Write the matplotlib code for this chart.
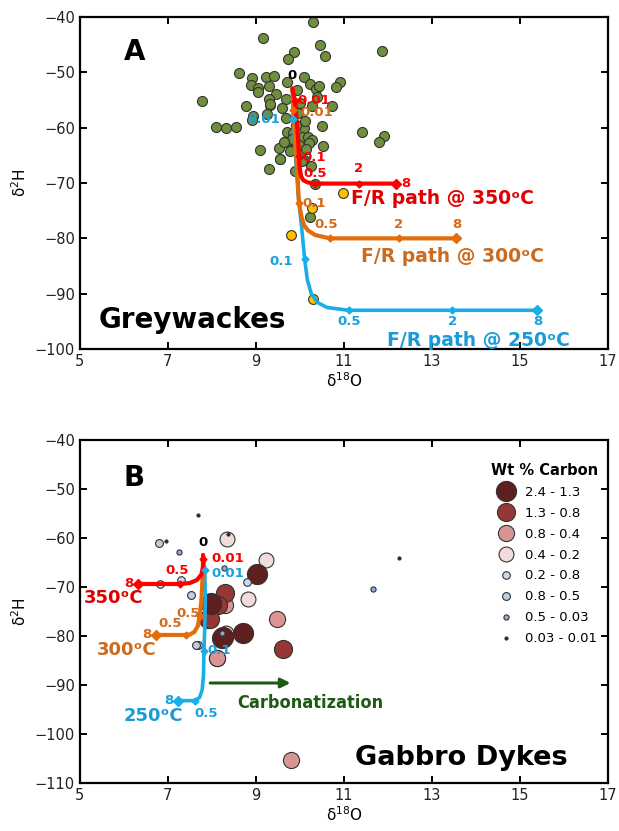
import numpy as np
import matplotlib
matplotlib.use("Agg")
import matplotlib.pyplot as plt
from matplotlib.lines import Line2D

plt.rcParams['font.family'] = ['DejaVu Sans']
plt.rcParams['mathtext.default'] = 'regular'

# ---------------- panel A data : greywackes ----------------
grey_d18o = [10.30, 9.16, 10.45, 11.86, 9.87, 10.58, 9.72, 8.61, 8.92, 9.22, 9.41, 10.09,
             10.92, 10.82, 8.88, 9.04, 9.31, 9.71, 10.23, 10.36, 10.44, 9.05, 9.45, 9.94,
             7.77, 9.29, 9.68, 8.77, 9.32, 10.27, 10.72, 8.94, 9.26, 8.92, 9.68, 8.09,
             8.33, 8.56, 10.10, 10.51, 9.91, 11.42, 11.92, 11.80, 9.71, 9.85, 10.04, 10.18,
             10.28, 9.66, 9.80, 9.99, 10.20, 10.53, 9.09, 9.53, 9.55, 9.79, 9.30, 9.89,
             10.09, 10.34, 10.25, 9.83, 9.64, 9.77, 9.56, 10.23, 9.95, 10.12, 10.05, 9.97,
             10.15, 9.60, 10.00, 9.33, 10.40]
grey_d2h = [-40.9, -43.7, -45.1, -46.1, -46.3, -47.0, -47.5, -50.1, -51.1, -50.8, -50.6, -50.9,
            -51.7, -52.7, -52.2, -52.8, -52.5, -51.7, -52.1, -53.0, -52.5, -53.6, -53.9, -53.1,
            -55.1, -54.9, -54.8, -56.1, -55.9, -56.1, -56.0, -57.8, -57.6, -58.6, -58.2, -59.9,
            -60.1, -59.9, -60.1, -59.7, -59.5, -60.8, -61.5, -62.6, -60.8, -61.0, -61.7, -61.6,
            -62.2, -62.5, -62.9, -63.1, -62.7, -63.3, -64.0, -63.7, -65.7, -64.0, -67.4, -67.8,
            -65.8, -70.1, -66.9, -62.1, -62.6, -64.2, -65.7, -76.1, -57.3, -58.8, -66.0, -64.8,
            -63.9, -56.4, -55.5, -55.7, -54.5]
yellow_d18o = [10.99, 10.28, 9.80, 10.30]
yellow_d2h = [-71.8, -74.5, -79.4, -91.0]

# fluid/rock paths, panel A (vertices)
a350_x = [9.83, 9.89, 9.93, 9.96, 9.98, 10.00, 10.03, 10.08, 10.18, 10.34, 11.34, 12.18]
a350_y = [-52.9, -55.2, -59.0, -62.0, -65.2, -67.5, -68.8, -69.5, -69.9, -70.1, -70.1, -70.1]
a300_x = [9.83, 9.85, 9.90, 9.95, 9.98, 10.04, 10.10, 10.19, 10.35, 10.68, 12.25, 13.56]
a300_y = [-52.9, -56.8, -63.0, -69.0, -73.6, -76.2, -77.7, -78.6, -79.4, -80.0, -80.0, -80.0]
a250_x = [9.83, 9.85, 9.90, 9.96, 10.04, 10.11, 10.17, 10.26, 10.40, 10.62, 11.11, 13.46, 15.38]
a250_y = [-52.9, -58.4, -65.0, -72.0, -78.0, -83.8, -87.5, -90.0, -91.6, -92.5, -93.0, -93.0, -93.0]
a350_marks = [1, 4, 9, 10, 11]
a300_marks = [1, 4, 9, 10, 11]
a250_marks = [1, 5, 10, 11, 12]

# ---------------- panel B data : gabbro dykes ----------------
carbon_classes = ['2.4 - 1.3', '1.3 - 0.8', '0.8 - 0.4', '0.4 - 0.2',
                  '0.2 - 0.8', '0.8 - 0.5', '0.5 - 0.03', '0.03 - 0.01']
class_colors = ['#5e1f1f', '#953735', '#d99594', '#f2dcdb',
                '#c6d9f1', '#b9cde5', '#8eaadb', '#1f2d3d']
class_sizes = [210, 170, 135, 115, 30, 32, 14, 5]

gab_d18o = [9.03, 7.99, 8.70, 8.24, 7.99, 8.26,
            8.30, 8.14, 7.92, 9.61, 7.95,
            8.30, 9.48, 8.12, 9.80, 8.11,
            8.35, 9.24, 8.83, 8.33,
            6.83, 8.81, 7.31,
            6.80, 7.52, 7.69, 7.65,
            8.27, 11.67, 7.25, 8.22,
            7.69, 8.37, 12.25, 6.95]
gab_d2h = [-67.3, -73.3, -79.3, -80.5, -73.5, -80.3,
           -71.3, -73.7, -76.6, -82.7, -76.6,
           -73.7, -76.6, -84.4, -105.3, -84.6,
           -60.2, -64.4, -72.5, -79.3,
           -69.4, -68.9, -68.6,
           -61.0, -71.6, -81.8, -81.8,
           -66.2, -70.5, -62.9, -79.3,
           -55.4, -59.2, -64.0, -60.6]
gab_class = [0, 0, 0, 0, 0, 0,
             1, 1, 1, 1, 1,
             2, 2, 2, 2, 2,
             3, 3, 3, 3,
             4, 4, 4,
             5, 5, 5, 5,
             6, 6, 6, 6,
             7, 7, 7, 7]

b350_x = [7.80, 7.81, 7.80, 7.76, 7.66, 7.50, 7.27, 6.33]
b350_y = [-63.5, -64.3, -66.0, -67.5, -68.6, -69.2, -69.4, -69.4]
b300_x = [7.80, 7.79, 7.76, 7.72, 7.68, 7.60, 7.50, 7.42, 6.74]
b300_y = [-63.5, -68.0, -73.0, -76.0, -78.0, -79.2, -79.7, -79.8, -79.8]
b250_x = [7.80, 7.84, 7.85, 7.84, 7.82, 7.81, 7.78, 7.72, 7.61, 7.23]
b250_y = [-63.5, -66.5, -72.0, -78.0, -83.0, -88.0, -91.0, -92.6, -93.2, -93.2]
b350_marks = [1, 6, 7]
b300_marks = [3, 7, 8]
b250_marks = [1, 4, 8, 9]

RED = '#ff0000'
ORANGE = '#e46c0a'
BLUE = '#1aaee6'
TXT_ORANGE = '#d46a1a'
TXT_BLUE = '#1aa0dc'


def draw_path(ax, xs, ys, marks, color, lw=2.6):
    ax.plot(xs, ys, color=color, lw=lw, solid_capstyle='round', zorder=4)
    mx = [xs[i] for i in marks]
    my = [ys[i] for i in marks]
    ax.plot(mx, my, ls='none', marker='D', ms=3.5, color=color, zorder=5)
    ax.plot([xs[-1]], [ys[-1]], ls='none', marker='D', ms=5, color=color, zorder=5)


def style_axes(ax, ylo, yhi):
    ax.set_xlim(5, 17)
    ax.set_ylim(ylo, yhi)
    ax.set_xticks(np.arange(5, 18, 2))
    ax.set_yticks(np.arange(ylo, yhi + 1, 10))
    for s in ax.spines.values():
        s.set_linewidth(1.6)
    ax.tick_params(direction='in', top=True, right=True, length=5, width=1.4,
                   labelsize=10.5, colors='black', labelcolor='#222222')
    ax.set_xlabel('δ$^{18}$O', fontsize=11, labelpad=2)
    ax.set_ylabel('δ$^{2}$H', fontsize=11, labelpad=4)


fig = plt.figure(figsize=(6.19, 8.31), dpi=100)
axA = fig.add_axes([0.129, 0.580, 0.853, 0.3995])
axB = fig.add_axes([0.129, 0.0578, 0.853, 0.4128])

# ---------------- panel A ----------------
axA.scatter(grey_d18o, grey_d2h, s=52, c='#6f8f3c', edgecolors='#333333', linewidths=0.8, zorder=2)
axA.scatter(yellow_d18o, yellow_d2h, s=50, c='#ffc000', edgecolors='#333333', linewidths=0.8, zorder=3)
draw_path(axA, a250_x, a250_y, a250_marks, BLUE)
draw_path(axA, a300_x, a300_y, a300_marks, ORANGE, lw=3)
draw_path(axA, a350_x, a350_y, a350_marks, RED, lw=3)
style_axes(axA, -100, -40)

lab = dict(fontsize=9.5, fontweight='bold', zorder=6)
axA.text(9.83, -51.8, '0', color='black', ha='center', va='bottom', **lab)
axA.text(9.95, -55.1, '0.01', color=RED, ha='left', va='center', **lab)
axA.text(10.02, -57.2, '0.01', color=TXT_ORANGE, ha='left', va='center', **lab)
axA.text(9.55, -58.6, '0.01', color=TXT_BLUE, ha='right', va='center', **lab)
axA.text(10.05, -65.3, '0.1', color=RED, ha='left', va='center', **lab)
axA.text(10.08, -68.3, '0.5', color=RED, ha='left', va='center', **lab)
axA.text(11.34, -68.6, '2', color=RED, ha='center', va='bottom', **lab)
axA.text(12.30, -70.1, '8', color=RED, ha='left', va='center', **lab)
axA.text(10.05, -73.7, '0.1', color=TXT_ORANGE, ha='left', va='center', **lab)
axA.text(10.60, -78.6, '0.5', color=TXT_ORANGE, ha='center', va='bottom', **lab)
axA.text(12.25, -78.6, '2', color=TXT_ORANGE, ha='center', va='bottom', **lab)
axA.text(13.56, -78.6, '8', color=TXT_ORANGE, ha='center', va='bottom', **lab)
axA.text(9.85, -84.2, '0.1', color=TXT_BLUE, ha='right', va='center', **lab)
axA.text(11.11, -93.9, '0.5', color=TXT_BLUE, ha='center', va='top', **lab)
axA.text(13.46, -93.9, '2', color=TXT_BLUE, ha='center', va='top', **lab)
axA.text(15.40, -93.9, '8', color=TXT_BLUE, ha='center', va='top', **lab)

big = dict(fontsize=13.5, fontweight='bold', ha='left', va='center', zorder=6)
axA.text(11.17, -72.8, 'F/R path @ 350ᵒC', color='#e00000', **big)
axA.text(11.40, -83.3, 'F/R path @ 300ᵒC', color='#cc6a1e', **big)
axA.text(11.97, -98.4, 'F/R path @ 250ᵒC', color='#1a9bd7', **big)
axA.text(6.0, -46.3, 'A', fontsize=20, fontweight='bold', ha='left', va='center')
axA.text(5.42, -94.8, 'Greywackes', fontsize=20, fontweight='bold', ha='left', va='center')

# ---------------- panel B ----------------
for k in range(len(carbon_classes)):
    xs = [x for x, c in zip(gab_d18o, gab_class) if c == k]
    ys = [y for y, c in zip(gab_d2h, gab_class) if c == k]
    axB.scatter(xs, ys, s=class_sizes[k], c=class_colors[k], edgecolors='#333333',
                linewidths=0.8, zorder=3 - k * 0.1 if k < 4 else 3.5)

draw_path(axB, b250_x, b250_y, b250_marks, BLUE)
draw_path(axB, b300_x, b300_y, b300_marks, ORANGE, lw=3)
draw_path(axB, b350_x, b350_y, b350_marks, RED, lw=3)
style_axes(axB, -110, -40)

axB.text(7.80, -62.3, '0', color='black', ha='center', va='bottom', **lab)
axB.text(7.98, -64.2, '0.01', color=RED, ha='left', va='center', **lab)
axB.text(7.98, -67.3, '0.01', color=TXT_BLUE, ha='left', va='center', **lab)
axB.text(7.22, -68.0, '0.5', color=RED, ha='center', va='bottom', **lab)
axB.text(6.22, -69.3, '8', color=RED, ha='right', va='center', **lab)
axB.text(7.45, -75.4, '0.5', color=TXT_ORANGE, ha='center', va='center', **lab)
axB.text(7.05, -78.8, '0.5', color=TXT_ORANGE, ha='center', va='bottom', **lab)
axB.text(6.62, -79.8, '8', color=TXT_ORANGE, ha='right', va='center', **lab)
axB.text(7.90, -83.0, '0.1', color=TXT_BLUE, ha='left', va='center', **lab)
axB.text(7.12, -93.1, '8', color=TXT_BLUE, ha='right', va='center', **lab)
axB.text(7.88, -94.4, '0.5', color=TXT_BLUE, ha='center', va='top', **lab)

mid = dict(fontsize=13, fontweight='bold', ha='left', va='center', zorder=6)
axB.text(5.10, -72.3, '350ᵒC', color='#e00000', **mid)
axB.text(5.38, -82.9, '300ᵒC', color='#cc6a1e', **mid)
axB.text(6.00, -96.4, '250ᵒC', color='#1a9bd7', **mid)

axB.annotate('', xy=(9.85, -89.6), xytext=(7.90, -89.6),
             arrowprops=dict(arrowstyle='-|>', color='#1e5a14', lw=2.2, mutation_scale=14))
axB.text(8.58, -93.6, 'Carbonatization', color='#1e5a14', fontsize=13, fontweight='bold',
         family=['DejaVu Sans'], fontstretch='condensed', ha='left', va='center')
axB.text(6.0, -47.8, 'B', fontsize=20, fontweight='bold', ha='left', va='center')
axB.text(11.25, -105.0, 'Gabbro Dykes', fontsize=19.5, fontweight='bold', ha='left', va='center')

handles = [Line2D([], [], ls='none', marker='o', markersize=np.sqrt(s), markerfacecolor=c,
                  markeredgecolor='#333333', markeredgewidth=0.8)
           for s, c in zip(class_sizes, class_colors)]
leg = axB.legend(handles, carbon_classes, title='Wt % Carbon', loc='upper right',
                 bbox_to_anchor=(1.0, 0.96), frameon=False, fontsize=9.5,
                 handletextpad=0.4, labelspacing=0.6, borderaxespad=0.3)
leg.get_title().set_fontweight('bold')
leg.get_title().set_fontsize(10.5)

fig.savefig('out.png', dpi=100)
